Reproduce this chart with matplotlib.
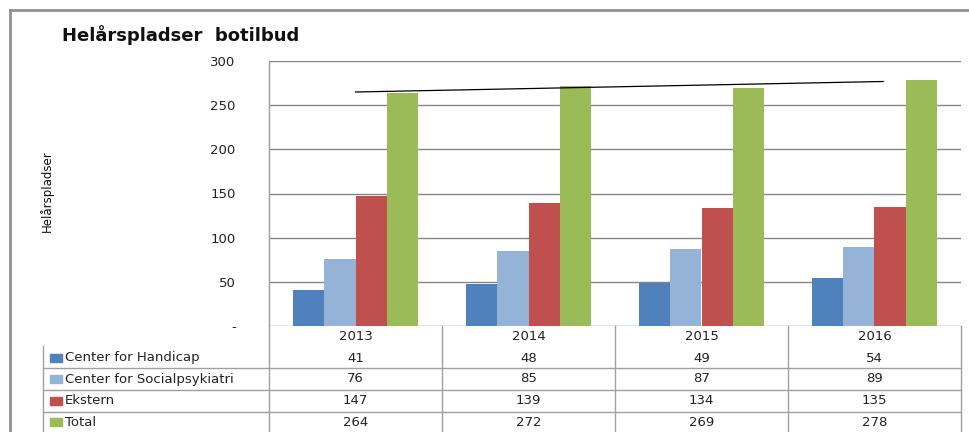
import numpy as np
import matplotlib
matplotlib.use("Agg")
import matplotlib.pyplot as plt
from matplotlib.lines import Line2D
from matplotlib.patches import Rectangle
from matplotlib.transforms import blended_transform_factory

# data
aar = ["2013", "2014", "2015", "2016"]
serier = ["Center for Handicap", "Center for Socialpsykiatri", "Ekstern", "Total"]
handicap = [41, 48, 49, 54]
socialpsyk = [76, 85, 87, 89]
ekstern = [147, 139, 134, 135]
total = [264, 272, 269, 278]
farver = ["#4F81BD", "#95B3D7", "#C0504D", "#9BBB59"]
yticks = [0, 50, 100, 150, 200, 250, 300]
ytick_labels = ["-", "50", "100", "150", "200", "250", "300"]

W, H = 970, 432
fig = plt.figure(figsize=(W / 100, H / 100), dpi=100)

# plot area in pixels
px_left, px_right, px_top, px_bot = 269, 961, 61, 326
ax = fig.add_axes([px_left / W, 1 - px_bot / H, (px_right - px_left) / W, (px_bot - px_top) / H])

werdier = [handicap, socialpsyk, ekstern, total]
x = np.arange(len(aar))
bw = 0.182
for i, (v, c) in enumerate(zip(werdier, farver)):
    ax.bar(x + (i - 1.5) * bw, v, width=bw, color=c, zorder=3)

# trendlinie for Total
k, m = np.polyfit(x, total, 1)
xt = np.array([0, 3.05])
ax.plot(xt, k * xt + m, color="black", lw=0.9, zorder=4)

ax.set_xlim(-0.5, 3.5)
ax.set_ylim(0, 300)
ax.set_yticks(yticks)
ax.set_yticklabels(ytick_labels, fontsize=9.5, color="#222222")
ax.tick_params(axis="y", length=0, pad=24)
ax.set_xticks(x)
ax.set_xticklabels(aar, fontsize=9.5, color="#222222")
ax.tick_params(axis="x", length=0, pad=3)
ax.grid(axis="y", color="#868686", lw=1, zorder=0)
for s in ["top", "right", "bottom"]:
    ax.spines[s].set_visible(False)
ax.spines["left"].set_color("#A0A0A0")

# data table below the plot
def ay(py):
    return (px_bot - py) / (px_bot - px_top)

def dx(px):
    return -0.5 + (px - px_left) / 173.0

tr = blended_transform_factory(ax.transData, ax.transAxes)
gc = "#A0A0A0"
row_lines = [368, 390, 412]
for py in row_lines:
    ax.add_line(Line2D([dx(43), dx(961)], [ay(py), ay(py)], transform=tr, color=gc, lw=1, clip_on=False))
ax.add_line(Line2D([dx(43), dx(43)], [ay(346), ay(440)], transform=tr, color=gc, lw=1, clip_on=False))
for b in [-0.5, 0.5, 1.5, 2.5, 3.5]:
    top = ay(px_bot) if b != -0.5 else ay(px_top)
    ax.add_line(Line2D([b, b], [top, ay(440)], transform=tr, color=gc, lw=1, clip_on=False))

row_centers = [358, 379, 401, 422]
for r, (navn, v, c) in enumerate(zip(serier, werdier, farver)):
    yc = ay(row_centers[r])
    ax.add_patch(Rectangle((dx(50), yc - 4 / 265), 12 / 173, 8 / 265, transform=tr,
                           color=c, clip_on=False))
    ax.text(dx(65), yc, navn, transform=tr, fontsize=9.5, color="#222222",
            ha="left", va="center", clip_on=False)
    for j, val in enumerate(v):
        ax.text(j, yc, str(val), transform=tr, fontsize=9.5, color="#222222",
                ha="center", va="center", clip_on=False)

# titel og aksetitel
fig.text(62 / W, 1 - 35 / H, "Helårspladser  botilbud", fontsize=13, fontweight="bold",
         ha="left", va="center", color="#111111")
fig.text(47 / W, 1 - 191 / H, "Helårspladser", fontsize=8.5, rotation=90,
         ha="center", va="center", color="#111111")

# ydre ramme
fig.add_artist(Line2D([10 / W, 10 / W], [0, 1 - 10 / H], transform=fig.transFigure, color="#909090", lw=2))
fig.add_artist(Line2D([10 / W, 1], [1 - 10 / H, 1 - 10 / H], transform=fig.transFigure, color="#909090", lw=2))

fig.savefig("out.png", dpi=100)
